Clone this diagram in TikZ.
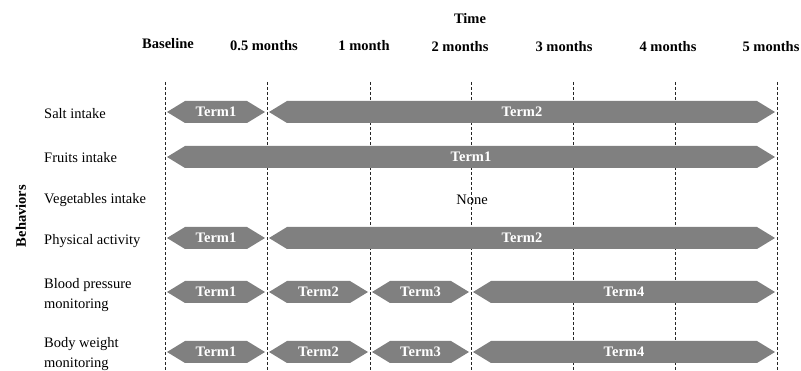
\documentclass[tikz,border=0pt]{standalone}
\usepackage{fontspec}
\setmainfont{Liberation Serif}
\colorlet{termcol}{black!50}
\tikzstyle{tickline}=[dash pattern=on 3pt off 2pt,line width=0.9pt,black!85]
\tikzstyle{termbar}=[fill=termcol]
\tikzstyle{termtext}=[white,font=\fontsize{14.5}{16}\selectfont\bfseries,inner sep=0pt]
\tikzstyle{head}=[font=\fontsize{14.5}{17}\selectfont\bfseries,inner sep=0pt]
\tikzstyle{behav}=[font=\fontsize{14.5}{20}\selectfont,anchor=west,align=left,inner sep=0pt]
% one term: start, end, row, label, name
\def\term#1#2#3#4#5{\fill[termbar] ({#1+2},#3) -- ({#1+20},{#3-11}) -- ({#2-20},{#3-11})
  -- ({#2-2},#3) -- ({#2-20},{#3+11}) -- ({#1+20},{#3+11}) -- cycle;
  \node[termtext] (#5) at ({(#1+#2)/2},#3) {#4};}

\begin{document}
\begin{tikzpicture}[x=1pt,y=-1pt]
  \def\xa{165}  % baseline
  \def\xb{267}  % 0.5 months
  \def\xc{370}  % 1 month
  \def\xd{471}  % 2 months
  \def\xe{573}  % 3 months
  \def\xf{675}  % 4 months
  \def\xg{777}  % 5 months
  \useasboundingbox (0,0) rectangle (801,371);

  % HEADERS
  \node[head] (time) at (470,19) {Time};
  \node[head] (base) at (168,44) {Baseline};
  \node[head] (half) at (264,46) {0.5 months};
  \node[head] (m1) at (364,46) {1 month};
  \node[head] (m2) at (460,47) {2 months};
  \node[head] (m3) at (564,47) {3 months};
  \node[head] (m4) at (668,47) {4 months};
  \node[head] (m5) at (771,47) {5 months};
  \node[head,rotate=90] (behaviors) at (21,216) {Behaviors};

  % BEHAVIORS
  \node[behav] (salt) at (44,114) {Salt intake};
  \node[behav] (fruit) at (44,158) {Fruits intake};
  \node[behav] (veg) at (44,200) {Vegetables intake};
  \node[behav] (phys) at (44,241) {Physical activity};
  \node[behav] (bp) at (44,295) {Blood pressure\\monitoring};
  \node[behav] (bw) at (44,354) {Body weight\\monitoring};
  \node[font=\fontsize{14.5}{17}\selectfont,inner sep=0pt] (none) at (472,200) {None};

  % TIME LINES
  \foreach \x in {\xa,\xb,\xc,\xd,\xe,\xf,\xg}
    \draw[tickline] (\x,82) -- (\x,371);

  % TERMS
  \term{\xa}{\xb}{112}{Term1}{salt1}
  \term{\xb}{\xg}{112}{Term2}{salt2}
  \term{\xa}{\xg}{157}{Term1}{fruit1}
  \term{\xa}{\xb}{238}{Term1}{phys1}
  \term{\xb}{\xg}{238}{Term2}{phys2}
  \term{\xa}{\xb}{292}{Term1}{bp1}
  \term{\xb}{\xc}{292}{Term2}{bp2}
  \term{\xc}{\xd}{292}{Term3}{bp3}
  \term{\xd}{\xg}{292}{Term4}{bp4}
  \term{\xa}{\xb}{352}{Term1}{bw1}
  \term{\xb}{\xc}{352}{Term2}{bw2}
  \term{\xc}{\xd}{352}{Term3}{bw3}
  \term{\xd}{\xg}{352}{Term4}{bw4}
\end{tikzpicture}
\end{document}
